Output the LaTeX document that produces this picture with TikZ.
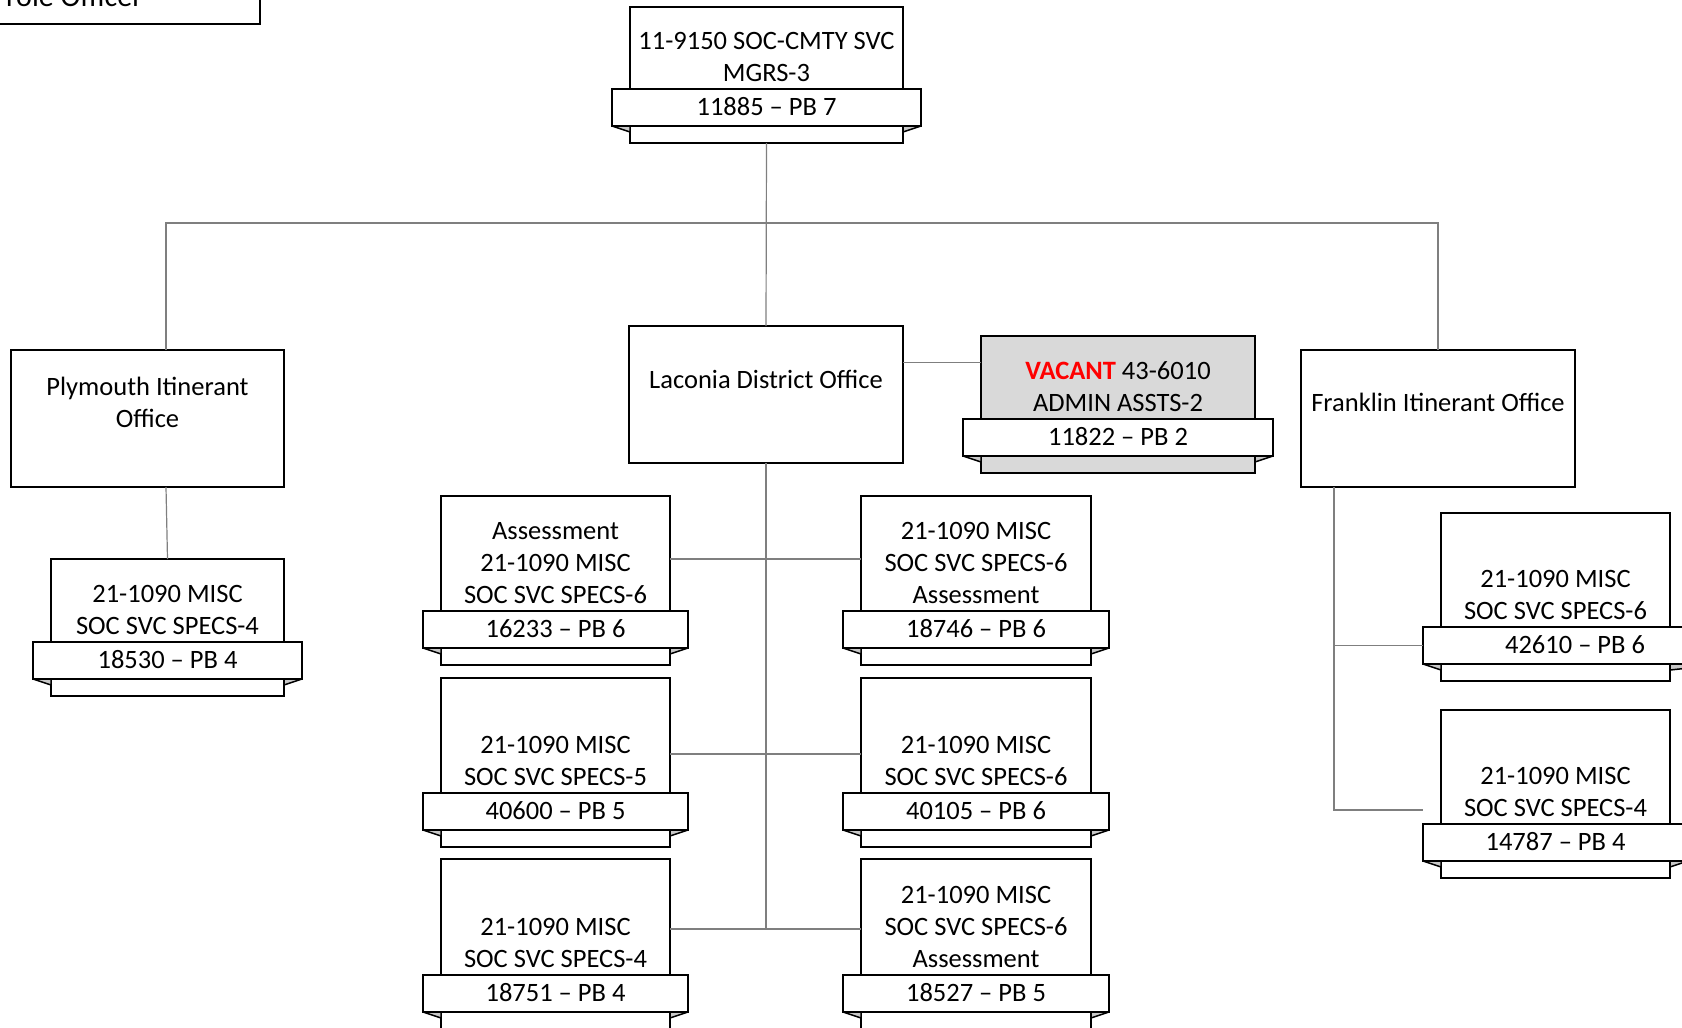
\documentclass[tikz,border=0pt]{standalone}
\usepackage{fontspec}
\setmainfont{Carlito}
\usetikzlibrary{positioning,calc}
\definecolor{vacColor}{HTML}{FF0000}
\definecolor{vacFill}{HTML}{D9D9D9}
\definecolor{foldColor}{HTML}{C8C8C8}
\definecolor{lnColor}{HTML}{7F7F7F}
\tikzset{
	box/.style={draw, line width=2pt, fill=white, inner sep=0pt, outer sep=0pt},
	body/.style={},
	band/.style={box, minimum height=37pt, text height=17pt, text depth=1pt, font=\fontsize{26.5}{32}\selectfont},
	lbl/.style={align=center, inner sep=0pt, anchor=south, font=\fontsize{26.5}{32}\selectfont},
	fold/.style={draw, line width=1.5pt, fill=foldColor, line join=round},
	conn/.style={draw=lnColor, line width=1.2pt}
}
% [#1 band overhang right] #2 name, #3 left, #4 right, #5 top, #6 band top, #7 title, #8 number
\newcommand{\posn}[8][18]{%
	\pgfmathsetmacro{\posW}{#4-#3}%
	\pgfmathsetmacro{\posH}{#6-#5+54}%
	\pgfmathsetmacro{\bandW}{#4-#3+18+#1}%
	\node[box, body, minimum width=\posW pt, minimum height=\posH pt, anchor=north west] (#2) at (#3,#5) {};
	\node[band, minimum width=\bandW pt, anchor=north west] (#2_r) at (#3-18,#6) {#8};
	\filldraw[fold] (#2_r.south west) -- (#2_r.south west -| #2.west) -- ++(0,6) -- cycle;
	\filldraw[fold] (#2_r.south east) -- (#2_r.south east -| #2.east) -- ++(0,6) -- cycle;
	\node[lbl] (#2_t) at ({(#3+#4)/2},#6-7) {#7};
}
\newcommand{\pb}[2]{#1 \textendash{} PB #2}

\begin{document}
\begin{tikzpicture}[x=1pt, y=-1pt]
	\useasboundingbox (0,0) rectangle (1682,1028);
	% cut-off box at the corner
	\node[box, minimum width=300pt, minimum height=80pt, anchor=south east] (po) at (260,24) {};
	\node[anchor=base east, inner sep=0pt, font=\fontsize{30}{36}\selectfont] (po_t) at (143,6) {role Officer};

	\posn{mgr}{630}{903}{7}{89}{11-9150 SOC-CMTY SVC\\MGRS-3}{\pb{11885}{7}}

	\node[box, minimum width=273pt, minimum height=137pt, anchor=north west] (ply) at (11,350) {};
	\node[lbl] (ply_t) at (147.5,428) {Plymouth Itinerant\\Office};
	\node[box, minimum width=274pt, minimum height=137pt, anchor=north west] (lac) at (629,326) {};
	\node[lbl] (lac_t) at (766,389) {Laconia District Office};
	\node[box, minimum width=274pt, minimum height=137pt, anchor=north west] (fra) at (1301,350) {};
	\node[lbl] (fra_t) at (1438,412) {Franklin Itinerant Office};

	\begin{scope}[body/.style={fill=vacFill}]
		\posn{vac}{981}{1255}{336}{419}{\textcolor{vacColor}{\bfseries VACANT} 43-6010\\ADMIN ASSTS-2}{\pb{11822}{2}}
	\end{scope}

	\posn{plyc}{51}{284}{559}{642}{21-1090 MISC\\SOC SVC SPECS-4}{\pb{18530}{4}}

	\posn{a1}{441}{670}{496}{611}{Assessment\\21-1090 MISC\\SOC SVC SPECS-6}{\pb{16233}{6}}
	\posn{b1}{861}{1091}{496}{611}{21-1090 MISC\\SOC SVC SPECS-6\\Assessment}{\pb{18746}{6}}
	\posn{a2}{441}{670}{678}{793}{21-1090 MISC\\SOC SVC SPECS-5}{\pb{40600}{5}}
	\posn{b2}{861}{1091}{678}{793}{21-1090 MISC\\SOC SVC SPECS-6}{\pb{40105}{6}}
	\posn{a3}{441}{670}{859}{975}{21-1090 MISC\\SOC SVC SPECS-4}{\pb{18751}{4}}
	\posn{b3}{861}{1091}{859}{975}{21-1090 MISC\\SOC SVC SPECS-6\\Assessment}{\pb{18527}{5}}

	\posn[57]{f1}{1441}{1670}{513}{627}{21-1090 MISC\\SOC SVC SPECS-6}{\pb{42610}{6}}
	\posn{f2}{1441}{1670}{710}{824}{21-1090 MISC\\SOC SVC SPECS-4}{\pb{14787}{4}}

	\draw[conn] (mgr.south) -- (lac.north);
	\draw[conn] ([xshift=18.5pt]ply.north) -- ++(0,-127) -| (fra.north);
	\draw[conn] ([xshift=18.5pt]ply.south) -- (plyc.north);
	\coordinate (lac_e) at ([yshift=32pt]lac.east);
	\draw[conn] (lac_e) -- (lac_e -| vac.west);
	\draw[conn] (lac.south) -- (lac.south |- 0,929);
	\draw[conn] (a1.east |- 0,559) -- (b1.west |- 0,559);
	\draw[conn] (a2.east |- 0,754) -- (b2.west |- 0,754);
	\draw[conn] (a3.east |- 0,929) -- (b3.west |- 0,929);
	\coordinate (f2_in) at (1423,810);
	\draw[conn] ([xshift=-104pt]fra.south) |- (f1_r.west);
	\draw[conn] ([xshift=-104pt]fra.south) |- (f2_in);
\end{tikzpicture}
\end{document}
